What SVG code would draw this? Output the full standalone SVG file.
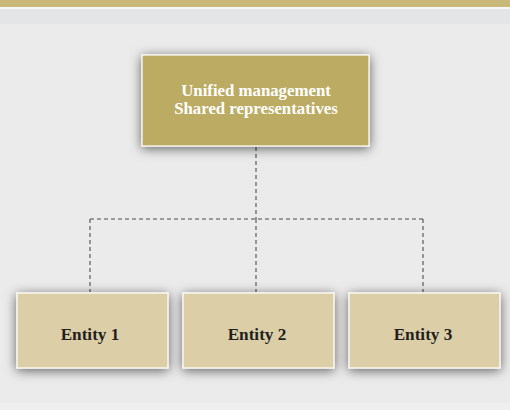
<svg xmlns="http://www.w3.org/2000/svg" width="510" height="410" viewBox="0 0 510 410">
<defs>
<filter id="sh" x="-20%" y="-40%" width="140%" height="180%">
<feDropShadow dx="0" dy="2" stdDeviation="6" flood-color="#000" flood-opacity="0.6"/>
</filter>
</defs>
<style>
.top{fill:#bcab62;stroke:#fff;stroke-width:1.2}
.ent{fill:#dccfa8;stroke:#fff;stroke-width:1.2}
.tt{font-family:"Liberation Serif",serif;font-weight:bold;font-size:16.8px;fill:#fff;text-anchor:middle}
.et{font-family:"Liberation Serif",serif;font-weight:bold;font-size:17.2px;fill:#231f20;text-anchor:middle}
.con{fill:none;stroke:#4d4d4d;stroke-width:1.1;stroke-dasharray:4 3}
</style>
<rect x="0" y="0" width="510" height="410" fill="#ebebeb"/>
<rect x="0" y="0" width="510" height="7" fill="#c8b97a"/>
<rect x="0" y="7" width="510" height="2" fill="#f7f7f7"/>
<rect x="0" y="9" width="510" height="15" fill="#e4e5e6"/>
<rect x="0" y="403" width="510" height="7" fill="#efefef"/>
<g id="connectors">
<path class="con" d="M256 147 V219"/>
<path class="con" d="M90 219 H423"/>
<path class="con" d="M90 219 V292"/>
<path class="con" d="M256 219 V292"/>
<path class="con" d="M423 219 V292"/>
</g>
<g id="top">
<rect class="top" x="142" y="55" width="227" height="91" filter="url(#sh)"/>
<text class="tt" x="256" y="95.5">Unified management</text>
<text class="tt" x="256" y="113.5">Shared representatives</text>
</g>
<g id="entity1">
<rect class="ent" x="17" y="293" width="151" height="75" filter="url(#sh)"/>
<text class="et" x="90" y="340">Entity 1</text>
</g>
<g id="entity2">
<rect class="ent" x="183" y="293" width="151" height="75" filter="url(#sh)"/>
<text class="et" x="257" y="340">Entity 2</text>
</g>
<g id="entity3">
<rect class="ent" x="349" y="293" width="151" height="75" filter="url(#sh)"/>
<text class="et" x="423" y="340">Entity 3</text>
</g>
</svg>
